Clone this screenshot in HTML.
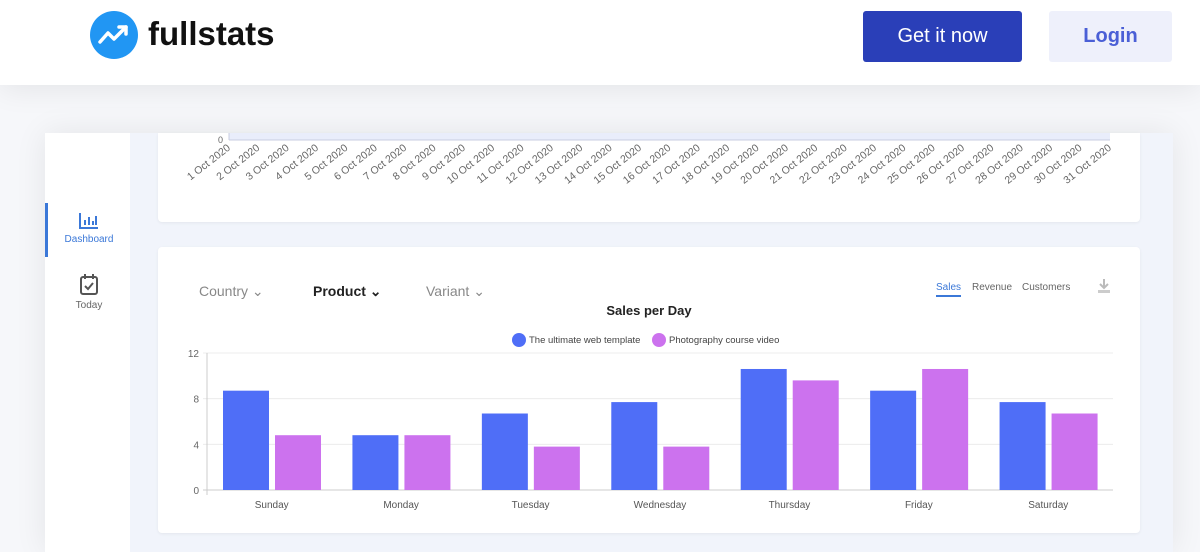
<!DOCTYPE html>
<html><head><meta charset="utf-8"><style>
body{margin:0;width:1200px;height:552px;overflow:hidden;background:#f6f7fa;font-family:"Liberation Sans",sans-serif;position:relative}
.abs{position:absolute}
</style></head><body>
<div class="abs" style="left:0;top:0;width:1200px;height:85px;background:#fff;box-shadow:0 4px 30px rgba(0,0,0,0.08)">
 <div class="abs" style="left:90px;top:11px;width:48px;height:48px;border-radius:50%;background:#2196f3">
  <svg width="48" height="48"><polyline points="10,31 18,22 24,28 36,16" fill="none" stroke="#fff" stroke-width="3.5" stroke-linecap="round" stroke-linejoin="round"/><polyline points="29,16 36,16 36,23" fill="none" stroke="#fff" stroke-width="3.5" stroke-linecap="round" stroke-linejoin="round"/></svg>
 </div>
 <div class="abs" style="left:148px;top:15px;font-size:33px;font-weight:bold;color:#111">fullstats</div>
 <div class="abs" style="left:863px;top:11px;width:159px;height:51px;background:#2a3fb8;border-radius:3px;color:#fff;font-size:20px;line-height:51px;text-align:center">Get it now</div>
 <div class="abs" style="left:1049px;top:11px;width:123px;height:51px;background:#eef0fb;border-radius:3px;color:#4a5fd6;font-size:20px;font-weight:bold;line-height:51px;text-align:center">Login</div>
</div>
<div class="abs" style="left:45px;top:133px;width:1128px;height:419px;background:#f1f4fb;box-shadow:0 0 30px rgba(0,0,0,0.08)"></div>
<div class="abs" style="left:45px;top:133px;width:85px;height:419px;background:#fff">
 <div class="abs" style="left:0;top:70px;width:3px;height:54px;background:#3b78d8"></div>
 <div class="abs" style="left:0;top:78px;width:88px;text-align:center;color:#3b78d8;font-size:10px">
  <svg width="22" height="20"><path d="M2 2V17H20" stroke="#3b78d8" stroke-width="2" fill="none"/><path d="M7 14V9M11 14V6M15 14V10M18 14V5" stroke="#3b78d8" stroke-width="2"/></svg><br>Dashboard</div>
 <div class="abs" style="left:0;top:140px;width:88px;text-align:center;color:#666;font-size:10px">
  <svg width="22" height="24"><rect x="3" y="4" width="16" height="17" rx="2" stroke="#555" stroke-width="2" fill="none"/><path d="M7 1V6M15 1V6" stroke="#555" stroke-width="2"/><path d="M7 13l3 3 5-6" stroke="#555" stroke-width="2" fill="none"/></svg><br>Today</div>
</div>
<div class="abs" style="left:158px;top:133px;width:982px;height:89px;background:#fff;border-radius:0 0 4px 4px;box-shadow:0 1px 3px rgba(0,0,0,0.06)">
 <svg id="topchart" width="982" height="89" style="position:absolute;left:0;top:0"></svg>
</div>
<div class="abs" style="left:158px;top:247px;width:982px;height:286px;background:#fff;border-radius:4px;box-shadow:0 1px 3px rgba(0,0,0,0.06)">
 <div class="abs" style="left:41px;top:36px;font-size:14px;color:#888">Country &#8964;</div>
 <div class="abs" style="left:155px;top:36px;font-size:14px;color:#222;font-weight:bold">Product &#8964;</div>
 <div class="abs" style="left:268px;top:36px;font-size:14px;color:#888">Variant &#8964;</div>
 <div class="abs" style="left:778px;top:35px;font-size:10px;color:#3b78d8;border-bottom:2px solid #3b78d8;padding-bottom:2px">Sales</div>
 <div class="abs" style="left:814px;top:35px;font-size:10px;color:#666">Revenue</div>
 <div class="abs" style="left:864px;top:35px;font-size:10px;color:#666">Customers</div>
 <div class="abs" style="left:939px;top:31px;width:14px;height:16px">
  <svg width="14" height="16"><path d="M7 1V10M3 6l4 4 4-4" stroke="#bbb" stroke-width="2" fill="none"/><rect x="1" y="12" width="12" height="3" fill="#ccc"/></svg></div>
 <div class="abs" style="left:0;top:56px;width:982px;text-align:center;font-size:13px;font-weight:bold;color:#222">Sales per Day</div>
</div>
<svg id="main" class="abs" width="1200" height="552" style="left:0;top:0"></svg>
<script>
const days=["Sunday","Monday","Tuesday","Wednesday","Thursday","Friday","Saturday"];
const series1=[8.7,4.8,6.7,7.7,10.6,8.7,7.7];
const series2=[4.8,4.8,3.8,3.8,9.6,10.6,6.7];
const seriesNames=["The ultimate web template","Photography course video"];
const yTicks=[0,4,8,12];
const dates=[];for(let i=1;i<=31;i++)dates.push(i+" Oct 2020");
const NS="http://www.w3.org/2000/svg";
function mk(p,t,a,txt){const e=document.createElementNS(NS,t);for(const k in a)e.setAttribute(k,a[k]);if(txt!==undefined)e.textContent=txt;p.appendChild(e);return e;}
const topSvg=document.getElementById('topchart');
const tx0=71,tx1=952;
const tX=i=>tx0+(tx1-tx0)*i/30;
let r=mk(topSvg,'rect',{x:tx0,y:0,width:tx1-tx0,height:7,fill:'#e9edfb'});


mk(topSvg,'line',{x1:tx0,y1:7,x2:tx1,y2:7,stroke:'#c8cde0'});
mk(topSvg,'line',{x1:tx0,y1:0,x2:tx0,y2:7,stroke:'#c8cde0'});
let z=mk(topSvg,'text',{x:tx0-6,y:10,'font-size':9,fill:'#666','text-anchor':'end'},'0');


dates.forEach((d,i)=>{const t=mk(topSvg,'text',{x:tX(i)+2,y:16,'font-size':10.5,fill:'#666','text-anchor':'end',transform:`rotate(-38 ${tX(i)+2} 16)`},d);

});
const svg=document.getElementById('main');
const x0=207,x1=1113,y0=490,y12=353;
const yS=v=>y0-(y0-y12)*v/12;
const bw=(x1-x0)/days.length;
yTicks.forEach(v=>{const l=mk(svg,'line',{x1:x0-4,y1:yS(v),x2:x1,y2:yS(v),stroke:v==0?'#ccc':'#ececec'});


const t=mk(svg,'text',{x:x0-8,y:yS(v)+4,'font-size':10,fill:'#666','text-anchor':'end'},v);

});
mk(svg,'line',{x1:x0,y1:y12,x2:x0,y2:y0+5,stroke:'#ccc'});
days.forEach((d,i)=>{const gx=x0+bw*i;
const b1=mk(svg,'rect',{x:gx+16,y:yS(series1[i]),width:46,height:y0-yS(series1[i]),fill:'#4f6ef7'});


const b2=mk(svg,'rect',{x:gx+68,y:yS(series2[i]),width:46,height:y0-yS(series2[i]),fill:'#cc72ee'});


const t=mk(svg,'text',{x:gx+bw/2,y:508,'font-size':10,fill:'#555','text-anchor':'middle'},d);

});
const lg=[[519,'#4f6ef7',seriesNames[0]],[659,'#cc72ee',seriesNames[1]]];
lg.forEach(([x,c,n])=>{const ci=mk(svg,'circle',{cx:x,cy:340,r:7,fill:c});


const t=mk(svg,'text',{x:x+10,y:343,'font-size':9.5,fill:'#444'},n);

});
</script>
</body></html>
